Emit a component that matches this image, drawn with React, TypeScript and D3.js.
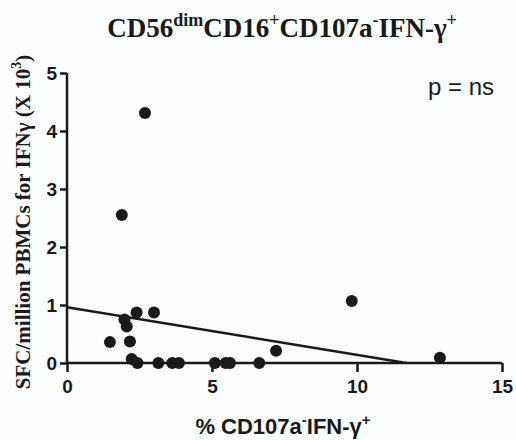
import { useEffect, useRef } from 'react';
import * as d3 from 'd3';

// % CD107a-IFN-g+ (x) vs SFC/million PBMCs x10^3 (y)
const xValues = [2.69, 1.89, 1.98, 2.06, 2.4, 3.0, 1.48, 2.17, 2.23, 2.43, 3.15, 3.63, 3.86, 5.1, 5.47, 5.62, 6.63, 7.21, 9.82, 12.86];
const yValues = [4.31, 2.55, 0.75, 0.63, 0.87, 0.87, 0.36, 0.37, 0.07, 0, 0, 0, 0, 0, 0, 0, 0, 0.21, 1.07, 0.09];
const xTicks = [0, 5, 10, 15];
const yTicks = [0, 1, 2, 3, 4, 5];
const fitIntercept = 0.96;
const fitSlope = -0.082;

const App = () => {
  const svgRef = useRef<SVGSVGElement>(null);

  useEffect(() => {
    const svg = d3.select(svgRef.current);
    svg.selectAll('*').remove();

    const x = d3.scaleLinear().domain([0, 15]).range([67, 502]);
    const y = d3.scaleLinear().domain([0, 5]).range([363, 73]);

    svg.append('rect').attr('width', 516).attr('height', 440).attr('fill', '#fbfcfe');

    // axes
    const xAxis = svg.append('g')
      .attr('transform', `translate(0,${y(0)})`)
      .call(d3.axisBottom(x).tickValues(xTicks).tickSize(9).tickPadding(8).tickFormat(d3.format('d')));
    const yAxis = svg.append('g')
      .attr('transform', `translate(${x(0)},0)`)
      .call(d3.axisLeft(y).tickValues(yTicks).tickSize(7).tickPadding(3).tickFormat(d3.format('d')));

    [xAxis, yAxis].forEach(a => {
      a.select('.domain').attr('stroke', '#1a1a1a').attr('stroke-width', 2.5);
      a.selectAll('.tick line').attr('stroke', '#1a1a1a').attr('stroke-width', 2.5);
      a.selectAll('.tick text')
        .attr('fill', '#1a1a1a')
        .attr('font-family', '"Liberation Sans", Arial, sans-serif')
        .attr('font-weight', 'bold')
        .attr('font-size', 19);
    });
    xAxis.select('.domain').attr('d', `M${x(0)},0H${x(15)}`);
    yAxis.select('.domain').attr('d', `M0,${y(0)}V${y(5)}`);

    // regression line, drawn until it meets y = 0
    const xEnd = -fitIntercept / fitSlope;
    svg.append('line')
      .attr('x1', x(0)).attr('y1', y(fitIntercept))
      .attr('x2', x(xEnd)).attr('y2', y(0))
      .attr('stroke', '#1a1a1a').attr('stroke-width', 2.5);

    svg.append('g')
      .selectAll('circle')
      .data(xValues.map((v, i) => [v, yValues[i]]))
      .enter().append('circle')
      .attr('cx', d => x(d[0]))
      .attr('cy', d => y(d[1]))
      .attr('r', 6)
      .attr('fill', '#1a1a1a');

    // title
    const title = svg.append('text')
      .attr('x', 282).attr('y', 37)
      .attr('text-anchor', 'middle')
      .attr('font-family', '"Liberation Serif", "Times New Roman", serif')
      .attr('font-weight', 'bold')
      .attr('font-size', 27)
      .attr('fill', '#1a1a1a');
    const parts: [string, string][] = [
      ['CD56', ''], ['dim', 'sup'], ['CD16', ''], ['+', 'sup'], ['CD107a', ''], ['-', 'sup'], ['IFN-γ', ''], ['+', 'sup'],
    ];
    parts.forEach(([t, k], i) => {
      const prev = i > 0 ? parts[i - 1][1] : '';
      title.append('tspan')
        .attr('font-size', k === 'sup' ? 18 : 27)
        .attr('dy', k === 'sup' && prev !== 'sup' ? -11 : (k !== 'sup' && prev === 'sup' ? 11 : 0))
        .text(t);
    });

    // y label
    const yl = svg.append('text')
      .attr('transform', 'translate(30,222) rotate(-90)')
      .attr('text-anchor', 'middle')
      .attr('font-family', '"Liberation Serif", "Times New Roman", serif')
      .attr('font-weight', 'bold')
      .attr('font-size', 21)
      .attr('fill', '#1a1a1a');
    yl.append('tspan').text('SFC/million PBMCs for IFNγ (X 10');
    yl.append('tspan').attr('font-size', 14).attr('dy', -9).text('3');
    yl.append('tspan').attr('dy', 9).text(')');

    // x label
    const xl = svg.append('text')
      .attr('x', 283).attr('y', 434)
      .attr('text-anchor', 'middle')
      .attr('font-family', '"Liberation Sans", Arial, sans-serif')
      .attr('font-weight', 'bold')
      .attr('font-size', 22)
      .attr('fill', '#1a1a1a');
    xl.append('tspan').text('% CD107a');
    xl.append('tspan').attr('font-size', 15).attr('dy', -9).text('-');
    xl.append('tspan').attr('dy', 9).text('IFN-γ');
    xl.append('tspan').attr('font-size', 15).attr('dy', -9).text('+');

    svg.append('text')
      .attr('x', 428).attr('y', 95)
      .attr('font-family', '"Liberation Sans", Arial, sans-serif')
      .attr('font-size', 24)
      .attr('fill', '#1a1a1a')
      .text('p = ns');
  }, []);

  return (
    <div style={{ position: 'absolute', left: 0, top: 0 }}>
      <svg ref={svgRef} width={516} height={440} style={{ display: 'block' }}></svg>
    </div>
  );
};

export default App;
